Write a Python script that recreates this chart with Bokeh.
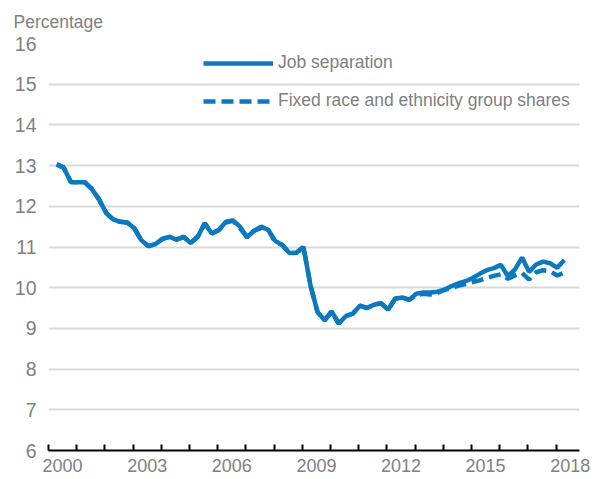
from bokeh.plotting import figure
from bokeh.models import FixedTicker, Legend, LegendItem, ColumnDataSource
from bokeh.embed import file_html
from bokeh.resources import INLINE

# Quarterly observations, 2000Q2 .. 2018Q2
quarters = [f"{y}Q{q}" for y in range(2000, 2019) for q in range(1, 5)][1:74]

job_separation = [
    13.03, 12.95, 12.60, 12.59, 12.59, 12.42, 12.17, 11.84, 11.68, 11.62,
    11.60, 11.46, 11.17, 11.02, 11.07, 11.20, 11.25, 11.18, 11.25, 11.10,
    11.25, 11.58, 11.33, 11.42, 11.62, 11.65, 11.50, 11.24, 11.40, 11.50,
    11.42, 11.15, 11.05, 10.85, 10.86, 11.00, 10.05, 9.40, 9.20, 9.42,
    9.12, 9.30, 9.36, 9.56, 9.50, 9.58, 9.62, 9.46, 9.73, 9.76,
    9.70, 9.85, 9.88, 9.88, 9.90, 9.95, 10.04, 10.11, 10.16, 10.24,
    10.34, 10.43, 10.48, 10.56, 10.28, 10.45, 10.74, 10.39, 10.57, 10.64,
    10.60, 10.49, 10.68,
]

fixed_shares = [
    13.03, 12.95, 12.60, 12.59, 12.59, 12.42, 12.17, 11.84, 11.68, 11.62,
    11.60, 11.46, 11.17, 11.02, 11.07, 11.20, 11.25, 11.18, 11.25, 11.10,
    11.25, 11.58, 11.33, 11.42, 11.60, 11.65, 11.46, 11.24, 11.40, 11.47,
    11.42, 11.12, 11.05, 10.85, 10.86, 11.00, 10.05, 9.40, 9.20, 9.42,
    9.12, 9.30, 9.36, 9.56, 9.50, 9.58, 9.62, 9.46, 9.73, 9.76,
    9.70, 9.82, 9.85, 9.83, 9.87, 9.95, 9.99, 10.05, 10.09, 10.14,
    10.18, 10.24, 10.29, 10.33, 10.22, 10.30, 10.36, 10.20, 10.38, 10.43,
    10.40, 10.30, 10.37,
]

year_labels = ["2000", "2003", "2006", "2009", "2012", "2015", "2018"]
y_ticks = [6, 7, 8, 9, 10, 11, 12, 13, 14, 15, 16]
y_title = "Percentage"

BLUE = "#0b79be"
GRAY = "#808080"
FONT = "Liberation Sans"


def qpos(q):
    return int(q[:4]) + (int(q[-1]) - 1) / 4 + 1 / 24


src = ColumnDataSource(dict(
    x=[qpos(q) for q in quarters],
    job=job_separation,
    fixed=fixed_shares,
))

p = figure(width=600, height=479, x_range=(2000, 2018.83), y_range=(6, 16),
           output_backend="svg", toolbar_location=None,
           min_border_left=48, min_border_right=21, min_border_top=43,
           min_border_bottom=29)
p.outline_line_color = None

p.title.text = y_title
p.title.text_font = FONT
p.title.text_font_size = "17.5px"
p.title.text_font_style = "normal"
p.title.text_color = GRAY
p.title.offset = -35
p.title.standoff = 20
p.title.vertical_align = "top"

# y axis
p.yaxis.ticker = FixedTicker(ticks=y_ticks)
p.yaxis.axis_line_color = None
p.yaxis.major_tick_line_color = None
p.yaxis.major_tick_out = 0
p.yaxis.major_tick_in = 0
p.yaxis.minor_tick_line_color = None
p.yaxis.major_label_text_font = FONT
p.yaxis.major_label_text_font_size = "19.5px"
p.yaxis.major_label_text_color = GRAY
p.yaxis.major_label_text_align = "center"
p.yaxis.major_label_standoff = 12

# x axis: tick marks at year boundaries, labels at mid-year
label_pos = [int(s) + 0.5 for s in year_labels]
p.xaxis.ticker = FixedTicker(ticks=label_pos, minor_ticks=list(range(2000, 2019)))
p.xaxis.major_label_overrides = {v: s for v, s in zip(label_pos, year_labels)}
p.xaxis.major_tick_in = 0
p.xaxis.major_tick_out = 0
p.xaxis.major_tick_line_color = None
p.xaxis.minor_tick_in = 6
p.xaxis.minor_tick_out = 0
p.xaxis.minor_tick_line_width = 2
p.xaxis.minor_tick_line_color = "black"
p.xaxis.axis_line_width = 2
p.xaxis.axis_line_color = "black"
p.xaxis.major_label_text_font = FONT
p.xaxis.major_label_text_font_size = "18px"
p.xaxis.major_label_text_color = GRAY
p.xaxis.major_label_standoff = 8

p.xgrid.grid_line_color = None
p.ygrid.grid_line_color = "#d9d9d9"
p.ygrid.grid_line_width = 2

r2 = p.line("x", "fixed", source=src, line_color=BLUE, line_width=4.5,
            line_dash="12 6")
r1 = p.line("x", "job", source=src, line_color=BLUE, line_width=4.5)

legend = Legend(items=[
    LegendItem(label="Job separation", renderers=[r1]),
    LegendItem(label="Fixed race and ethnicity group shares", renderers=[r2]),
], location=(155, 339), glyph_width=70, glyph_height=20, label_height=20,
    spacing=17, padding=0, margin=0, border_line_color=None,
    background_fill_alpha=0, label_text_font=FONT, label_text_font_size="17.5px",
    label_text_color=GRAY, label_standoff=5)
p.add_layout(legend)

open("out.html", "w").write(file_html(p, INLINE))
